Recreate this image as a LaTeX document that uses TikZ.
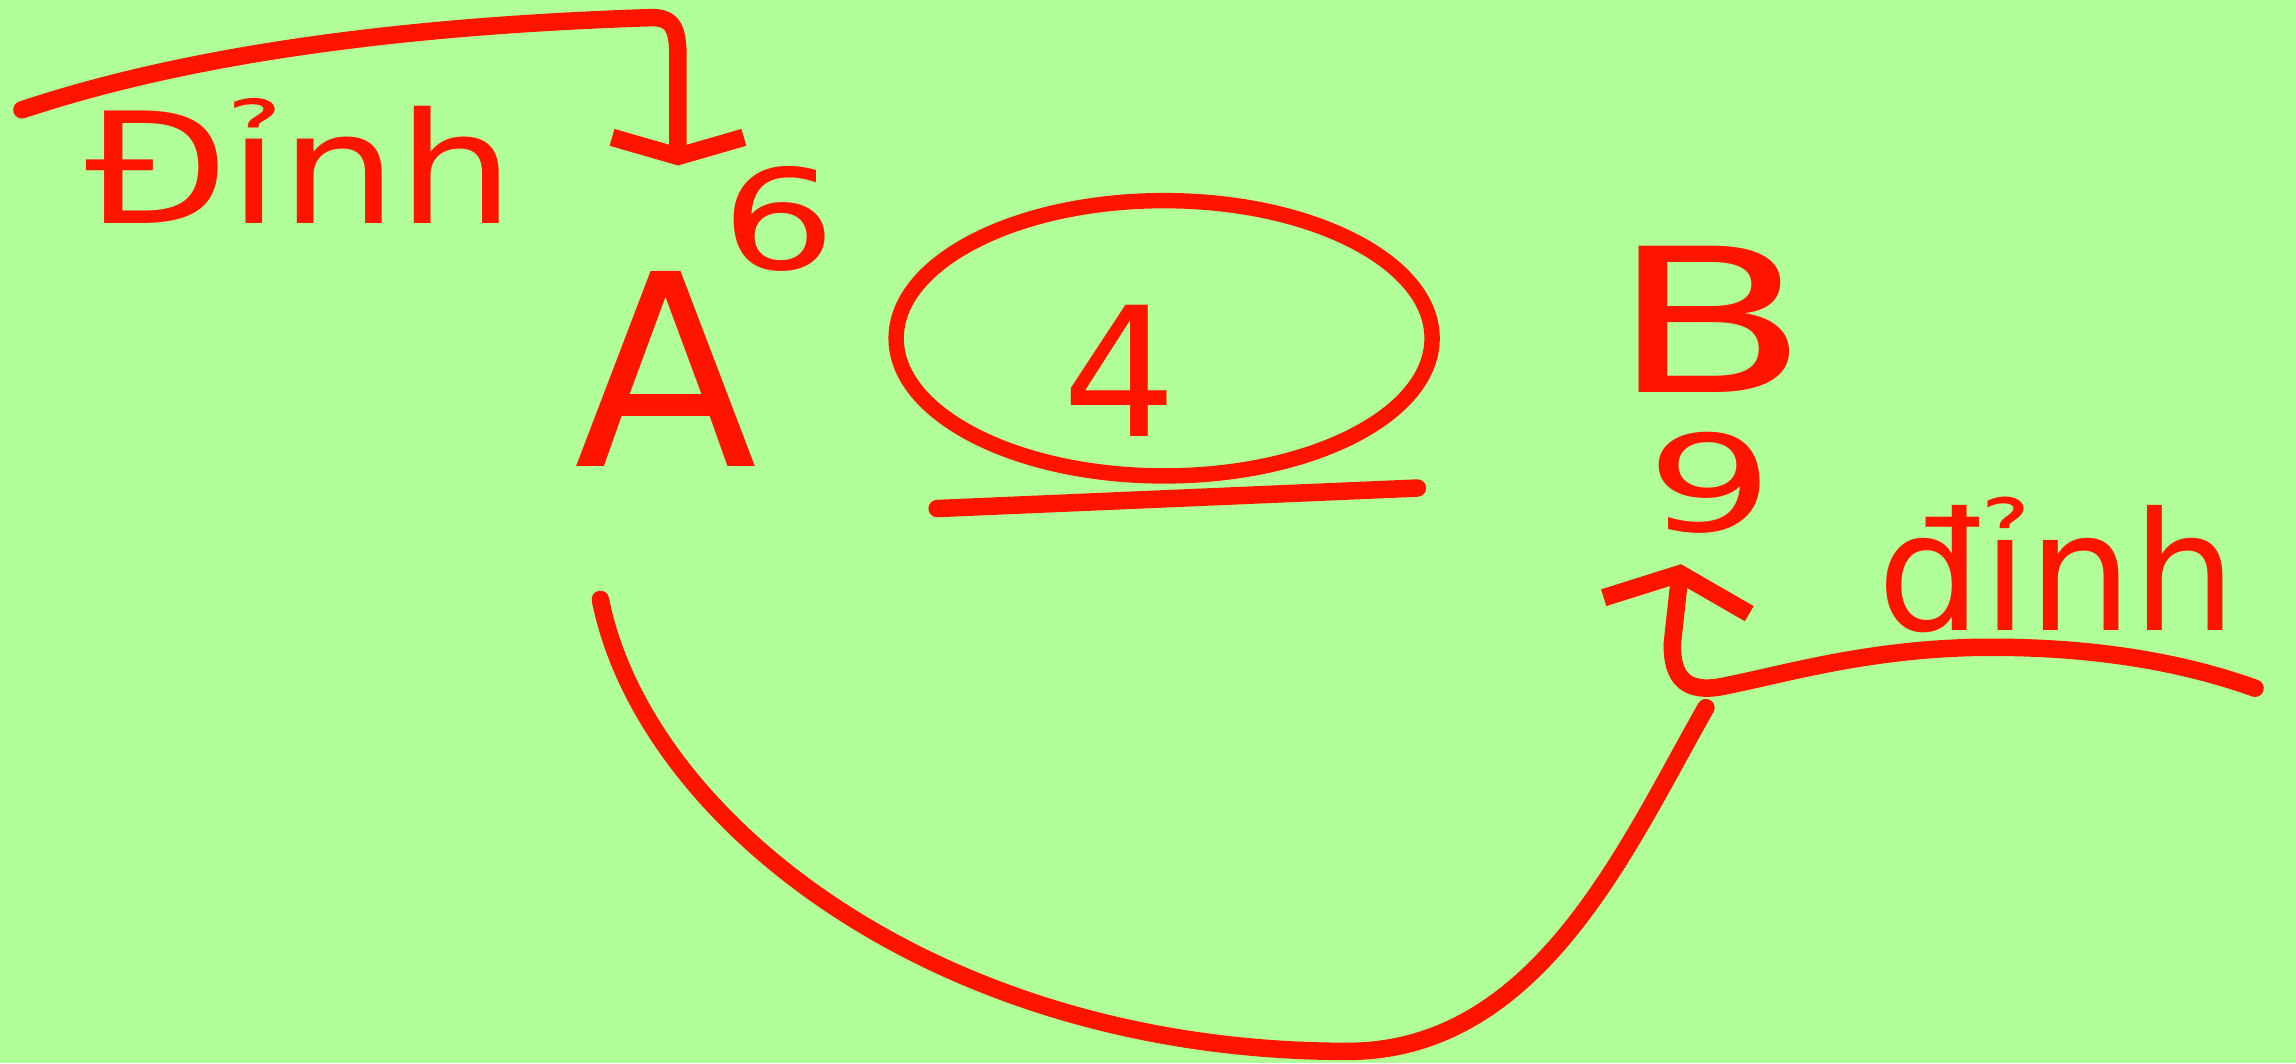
\documentclass[tikz,border=0pt]{standalone}
\usepackage{fontspec}
\setmainfont{DejaVu Sans}
\usetikzlibrary{arrows.meta}
\usetikzlibrary{shapes.geometric}
\definecolor{chalk}{RGB}{255,20,0}
\definecolor{board}{RGB}{177,255,152}

\begin{document}
\begin{tikzpicture}[
    ink/.style={draw=chalk,line width=3.4pt,line cap=round,line join=round},
    glyph/.style={text=chalk,inner sep=0pt},
    >={Straight Barb[length=2.2mm,width=10mm]}
  ]
    \fill[board] (0,0) rectangle (15.68,-7.26);
    \useasboundingbox (0,0) rectangle (15.68,-7.26);

    \node[glyph,font=\fontsize{52}{56}\selectfont] (a) at (4.55,-2.52) {A};
    \node[glyph,font=\fontsize{27}{30}\selectfont,xscale=1.3,anchor=north west] (six) at (4.92,-1.13) {6};
    \node[glyph,font=\fontsize{39}{42}\selectfont,xscale=1.45] (b) at (11.68,-2.18) {B};
    \node[glyph,font=\fontsize{26}{29}\selectfont,xscale=1.5] (nine) at (11.68,-3.3) {9};

    \node[ink,line width=3pt,ellipse,minimum width=3.66cm,minimum height=1.88cm] (weight) at (7.95,-2.31) {};
    \node[glyph,font=\fontsize{35}{38}\selectfont] (four) at (7.65,-2.53) {4};
    \draw[ink] ([shift={(-1.55,-0.17)}]weight.south) -- ([shift={(1.73,-0.03)}]weight.south);

    \node[glyph,font=\fontsize{30}{34}\selectfont,xscale=1.2] (ltext) at (2.05,-1.1) {Đỉnh};
    \node[glyph,font=\fontsize{32}{36}\selectfont] (rtext) at (14.05,-3.86) {đỉnh};

    \coordinate (ltail) at (0.15,-0.75);
    \coordinate (rtail) at (15.4,-4.7);

    % labels pointing at the numbers
    \draw[ink,-{Straight Barb[length=1.3mm,width=9mm]}] (ltail) .. controls (1.2,-0.4) and (2.6,-0.18) .. (4.45,-0.12)
        .. controls (4.6,-0.12) and (4.63,-0.2) .. (4.63,-0.4)
        -- ([xshift=-0.29cm,yshift=0.0cm]six.north west);
    \draw[ink,->] (rtail) .. controls (14.9,-4.52) and (14.3,-4.42) .. (13.6,-4.42)
        .. controls (12.8,-4.42) and (12.2,-4.6) .. (11.8,-4.68)
        .. controls (11.5,-4.75) and (11.42,-4.62) .. (11.42,-4.4)
        -- ([xshift=-0.2cm,yshift=-0.2cm]nine.south);

    % edge A -- B
    \draw[ink] ([xshift=-0.45cm,yshift=-0.9cm]a.south) .. controls (4.4,-5.6) and (6.4,-7.18) .. (9.2,-7.18)
        .. controls (10.5,-7.18) and (11.1,-5.8) .. ([xshift=-0.03cm,yshift=-1.18cm]nine.south);
\end{tikzpicture}
\end{document}
